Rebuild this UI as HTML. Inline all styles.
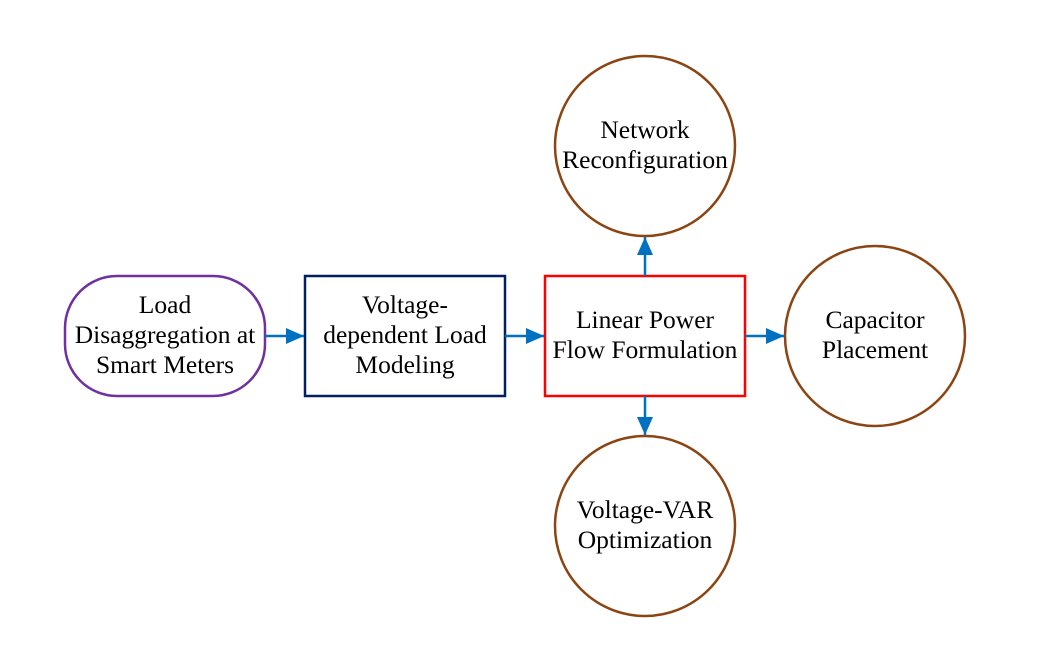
<!DOCTYPE html>
<html><head><style>body{margin:0;background:#fff}</style></head><body>
<svg width="1048" height="670" xmlns="http://www.w3.org/2000/svg" style="display:block">
<defs>
<marker id="b" markerWidth="18" markerHeight="18" refX="18" refY="9" orient="auto" markerUnits="userSpaceOnUse"><path d="M0,1 L18,9 L0,17 z" fill="#0070C0"/></marker></defs>
<g fill="none" stroke-width="2.5">
<rect x="65" y="276" width="200" height="120" rx="52" ry="52" stroke="#7030A0"/>
<rect x="305" y="276" width="200" height="120" stroke="#002060"/>
<rect x="545" y="276" width="200" height="120" stroke="#FF0000"/>
<circle cx="645" cy="146" r="90" stroke="#8B4513"/>
<circle cx="875" cy="336" r="90" stroke="#8B4513"/>
<circle cx="645" cy="526" r="90" stroke="#8B4513"/>
</g>
<g stroke="#0070C0" stroke-width="2.5" fill="none">
<line x1="265" y1="336" x2="304" y2="336" marker-end="url(#b)"/>
<line x1="505" y1="336" x2="544" y2="336" marker-end="url(#b)"/>
<line x1="745" y1="336" x2="784" y2="336" marker-end="url(#b)"/>
<line x1="645" y1="276" x2="645" y2="237" marker-end="url(#b)"/>
<line x1="645" y1="396" x2="645" y2="435" marker-end="url(#b)"/>
</g>
<g font-family="Liberation Serif, serif" font-size="25.5" text-anchor="middle" fill="#000">
<text x="165" y="313">Load</text><text x="165" y="343">Disaggregation at</text><text x="165" y="373">Smart Meters</text>
<text x="405" y="313">Voltage-</text><text x="405" y="343">dependent Load</text><text x="405" y="373">Modeling</text>
<text x="645" y="328">Linear Power</text><text x="645" y="358">Flow Formulation</text>
<text x="645" y="138">Network</text><text x="645" y="168">Reconfiguration</text>
<text x="875" y="328">Capacitor</text><text x="875" y="358">Placement</text>
<text x="645" y="518">Voltage-VAR</text><text x="645" y="548">Optimization</text>
</g>
</svg>
</body></html>
